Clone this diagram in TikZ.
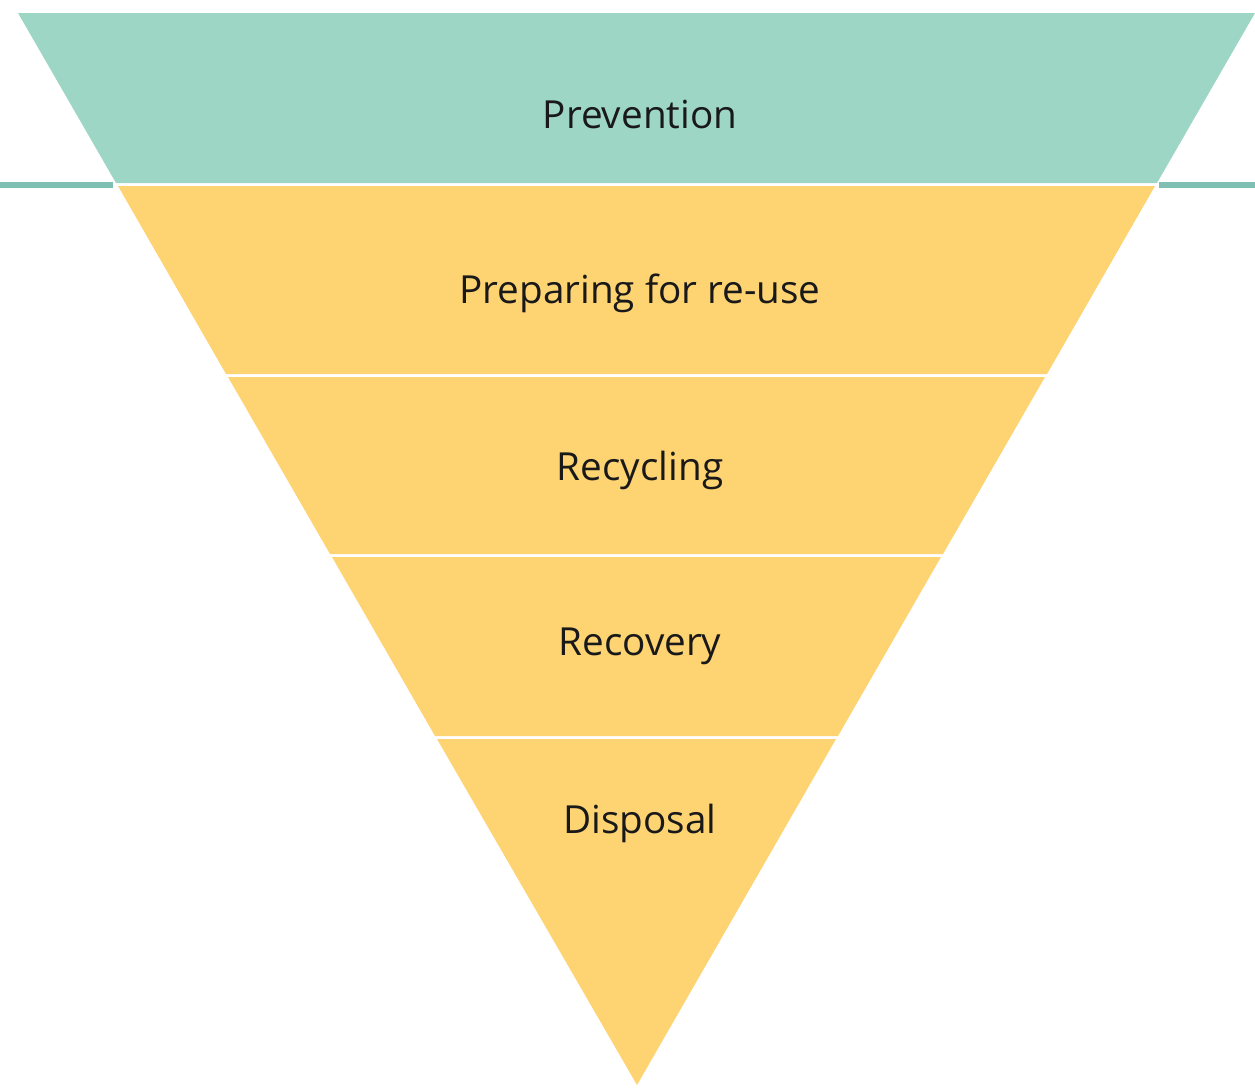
\documentclass[tikz,border=0pt]{standalone}
\usepackage{fontspec}
\setmainfont{Open Sans}
\usepackage{tikz}

\definecolor{tealband}{HTML}{9DD6C5}
\definecolor{tealline}{HTML}{80BFB4}
\definecolor{yellowband}{HTML}{FED372}

\begin{document}
\begin{tikzpicture}[x=0.75pt,y=-0.75pt,
  lbl/.style={text=black!90,font=\fontsize{29}{35}\selectfont}]

\useasboundingbox (0,0) rectangle (1255,1089);

\draw[tealline,line width=4.5pt] (0,185) -- (113,185);
\draw[tealline,line width=4.5pt] (1159,185) -- (1255,185);

\fill[tealband] (18,13) -- (1255,13) -- (1157,183) -- (116,183) -- cycle;
\fill[yellowband] (118,186) -- (1155,186) -- (1047,374) -- (226,374) -- cycle;
\fill[yellowband] (228,377) -- (1045,377) -- (943,554) -- (330,554) -- cycle;
\fill[yellowband] (332,557) -- (941,557) -- (838,736) -- (435,736) -- cycle;
\fill[yellowband] (437,739) -- (836,739) -- (637,1085) -- cycle;

\node[lbl] (prev) at (640,114) {Prevention};

\node[lbl] (prep) at (640,293) {Preparing for re-use};

\node[lbl] (recy) at (640,470) {Recycling};

\node[lbl] (reco) at (640,646) {Recovery};

\node[lbl] (disp) at (640,823) {Disposal};

\end{tikzpicture}
\end{document}
